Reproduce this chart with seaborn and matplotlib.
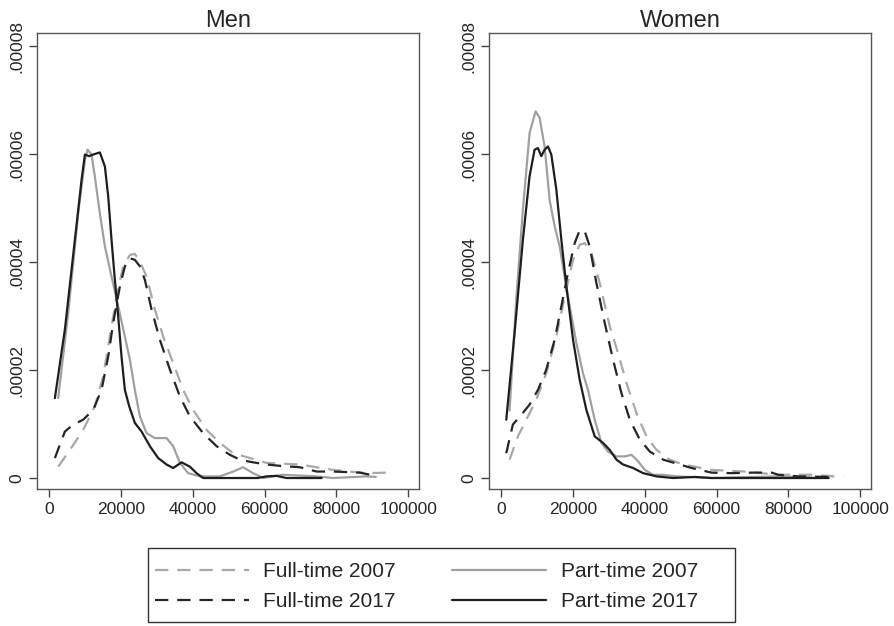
import numpy as np
import pandas as pd
import matplotlib
matplotlib.use("Agg")
import matplotlib.pyplot as plt
from matplotlib.patches import Rectangle
import seaborn as sns

sns.set_style("white")
plt.rcParams['font.family'] = ['Liberation Sans', 'DejaVu Sans']

# ---- data (density in units of 1e-6) ----
men_pt17_x = [1590, 4375, 7160, 9020, 9950, 11140, 12260, 14120, 15520, 16450, 17370, 18300, 19230, 20150, 21090, 22290, 23870, 25740, 28050, 30360, 32700, 34540, 36880, 39200, 41050, 42900, 50000, 58000, 60500, 63300, 66100, 75900]
men_pt17_y = [14.8, 27.5, 44.1, 55.2, 59.9, 59.6, 59.9, 60.3, 57.7, 52.1, 44.1, 36.7, 29.9, 22.5, 16.3, 13.3, 10.2, 8.6, 5.9, 3.7, 2.5, 1.85, 2.9, 2.1, 0.9, 0.0, 0.0, 0.0, 0.3, 0.4, 0.0, 0.0]

men_pt07_x = [2510, 5290, 8080, 9950, 10680, 11800, 12730, 14120, 15520, 17370, 19230, 21090, 22480, 23870, 25270, 27130, 29440, 32700, 34540, 36410, 38720, 41980, 47500, 51300, 54000, 56800, 59600, 65200, 74500, 79100, 88400, 91000]
men_pt07_y = [14.8, 30.5, 49.0, 58.9, 60.8, 59.9, 55.8, 49.0, 42.9, 37.3, 31.8, 26.2, 21.9, 16.3, 11.4, 8.3, 7.4, 7.4, 5.9, 2.8, 0.9, 0.3, 0.3, 1.2, 2.0, 0.9, 0.0, 0.6, 0.3, 0.0, 0.3, 0.2]

men_ft17_x = [1590, 4370, 6690, 9470, 12260, 14580, 16450, 17830, 19700, 21090, 22480, 23870, 25270, 26660, 28520, 30840, 33620, 36410, 39200, 42900, 46620, 50330, 53120, 56000, 60500, 65200, 69800, 74500, 79100, 86500, 91600]
men_ft17_y = [3.7, 8.6, 9.9, 10.8, 12.6, 16.3, 22.5, 28.7, 35.5, 39.2, 40.7, 40.4, 39.2, 36.7, 31.2, 25.6, 20.1, 15.1, 11.4, 8.3, 5.9, 4.3, 3.4, 3.0, 2.5, 2.2, 2.0, 1.2, 1.2, 1.0, 0.3]

men_ft07_x = [2510, 5770, 9470, 12730, 15040, 16910, 18770, 20610, 22480, 23870, 25270, 27130, 29440, 31760, 34540, 37330, 40110, 43840, 47550, 51250, 55900, 60500, 69800, 79100, 88400, 94400]
men_ft07_y = [2.1, 5.2, 8.9, 13.3, 18.8, 26.2, 33.6, 39.2, 41.3, 41.5, 40.1, 37.3, 31.2, 26.2, 21.3, 16.3, 12.6, 8.9, 6.5, 4.6, 3.7, 2.8, 2.5, 1.5, 0.9, 1.0]

women_pt17_x = [1400, 3710, 6030, 7900, 9290, 10220, 11160, 12080, 13010, 13950, 15350, 16750, 18140, 20000, 21850, 23720, 26040, 28360, 30230, 32100, 33940, 36730, 39520, 43260, 47890, 54000, 58600, 91200]
women_pt17_y = [10.8, 26.8, 44.1, 55.9, 60.8, 61.1, 59.6, 60.8, 61.4, 59.9, 53.4, 44.1, 35.5, 25.6, 18.2, 12.6, 7.7, 6.5, 5.2, 3.4, 2.5, 1.85, 0.9, 0.3, 0.0, 0.2, 0.0, 0.0]

women_pt07_x = [2320, 4180, 6030, 7900, 9570, 10690, 12080, 13480, 14880, 16270, 17670, 19070, 20930, 22770, 24170, 26040, 27910, 29750, 32100, 34410, 36280, 38120, 39990, 42310, 45100, 48840, 58600, 77200, 86500]
women_pt07_y = [12.5, 33.0, 49.7, 63.9, 67.9, 66.7, 61.4, 51.5, 46.6, 42.9, 37.3, 31.8, 25.0, 19.4, 16.3, 10.8, 6.5, 4.9, 4.0, 4.0, 4.3, 3.1, 1.5, 0.6, 0.6, 0.3, 0.0, 0.3, 0.1]

women_ft17_x = [1400, 3240, 5580, 7900, 10220, 12560, 14880, 16750, 18590, 20460, 21850, 23250, 24640, 26510, 28830, 31150, 33490, 35810, 38600, 41390, 45100, 49760, 53000, 58600, 64200, 69800, 75300, 77200, 82800, 91200]
women_ft17_y = [4.6, 9.9, 11.7, 13.6, 16.3, 20.1, 25.6, 31.8, 38.0, 43.5, 45.9, 45.7, 42.9, 36.1, 28.7, 21.9, 15.7, 10.8, 7.1, 4.9, 3.4, 2.5, 1.85, 1.0, 0.9, 1.0, 1.0, 0.6, 0.3, 0.2]

women_ft07_x = [2320, 4630, 6980, 9770, 12560, 15350, 17670, 20000, 21850, 23250, 25120, 27440, 30230, 32540, 34890, 37680, 40470, 43260, 46980, 50690, 58600, 67900, 77200, 86500, 95300]
women_ft07_y = [3.4, 7.7, 10.8, 14.5, 19.4, 26.2, 33.6, 40.4, 43.2, 43.5, 41.7, 36.1, 28.1, 23.1, 17.6, 12.0, 7.7, 5.2, 3.4, 2.5, 1.5, 1.2, 0.6, 0.6, 0.2]

panels = ["Men", "Women"]
series_labels = ["Full-time 2007", "Full-time 2017", "Part-time 2007", "Part-time 2017"]
x_ticks = [0, 20000, 40000, 60000, 80000, 100000]
y_ticks = [0, 0.00002, 0.00004, 0.00006, 0.00008]
y_tick_labels = ["0", ".00002", ".00004", ".00006", ".00008"]

data = {
    "Men": {
        "Full-time 2007": (men_ft07_x, men_ft07_y),
        "Full-time 2017": (men_ft17_x, men_ft17_y),
        "Part-time 2007": (men_pt07_x, men_pt07_y),
        "Part-time 2017": (men_pt17_x, men_pt17_y),
    },
    "Women": {
        "Full-time 2007": (women_ft07_x, women_ft07_y),
        "Full-time 2017": (women_ft17_x, women_ft17_y),
        "Part-time 2007": (women_pt07_x, women_pt07_y),
        "Part-time 2017": (women_pt17_x, women_pt17_y),
    },
}

styles = {
    "Full-time 2007": dict(color="#a8a8a8", dashes=(6.0, 4.0)),
    "Full-time 2017": dict(color="#262626", dashes=(6.0, 4.0)),
    "Part-time 2007": dict(color="#a0a0a0", dashes=None),
    "Part-time 2017": dict(color="#1e1e1e", dashes=None),
}
draw_order = ["Full-time 2007", "Part-time 2007", "Full-time 2017", "Part-time 2017"]

fig = plt.figure(figsize=(8.95, 6.26), dpi=100)
positions = [[0.0413, 0.2188, 0.4268, 0.7284], [0.5464, 0.2188, 0.4268, 0.7284]]

handles = {}
for panel, pos in zip(panels, positions):
    ax = fig.add_axes(pos)
    for name in draw_order:
        xs, ys = data[panel][name]
        df = pd.DataFrame({"x": xs, "y": np.array(ys) * 1e-6})
        st = styles[name]
        sns.lineplot(data=df, x="x", y="y", ax=ax, color=st["color"], lw=1.6,
                     sort=False, estimator=None)
        line = ax.get_lines()[-1]
        line.set_solid_joinstyle("round")
        if st["dashes"] is not None:
            line.set_dashes(st["dashes"])
        handles[name] = line
    ax.set_xlim(-3400, 103000)
    ax.set_ylim(-0.00000204, 0.0000824)
    ax.set_xticks(x_ticks)
    ax.set_xticklabels([str(v) for v in x_ticks], fontsize=12.5)
    ax.set_yticks(y_ticks)
    ax.set_yticklabels(y_tick_labels, fontsize=12.5, rotation=90, va="center")
    ax.tick_params(axis="both", direction="out", length=6, width=1, color="#444444",
                   left=True, bottom=True, pad=3)
    ax.set_xlabel("")
    ax.set_ylabel("")
    for s in ax.spines.values():
        s.set_color("#555555")
        s.set_linewidth(1.0)
    ax.set_title(panel, fontsize=17, pad=4)

# legend frame (drawn manually in figure pixels -> fraction)
W, H = 895.0, 626.0
fig.patches.append(Rectangle((148 / W, 1 - 622 / H), (735 - 148) / W, (622 - 548) / H,
                             transform=fig.transFigure, fill=False,
                             edgecolor="#333333", linewidth=1.0))
leg = fig.legend([handles[n] for n in series_labels], series_labels,
                 loc="upper left", bbox_to_anchor=(155 / W, 1 - 562 / H),
                 ncol=2, fontsize=15, frameon=False,
                 handlelength=4.5, handletextpad=0.7, columnspacing=2.7,
                 borderaxespad=0.0, borderpad=0.0, labelspacing=0.55)

fig.savefig("out.png", dpi=100)
